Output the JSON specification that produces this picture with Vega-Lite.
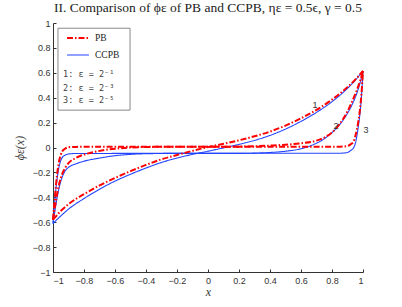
{
  "$schema": "https://vega.github.io/schema/vega-lite/v6.json",
  "width": 310,
  "height": 249,
  "autosize": {"type": "none"},
  "padding": {"left": 53, "top": 23, "right": 39, "bottom": 35},
  "background": "white",
  "title": {
    "text": "II. Comparison of ϕε of PB and CCPB, ηε = 0.5ϵ, γ = 0.5",
    "font": "Liberation Serif",
    "fontSize": 13.5,
    "fontWeight": "normal",
    "color": "#222222",
    "anchor": "middle",
    "offset": 5
  },
  "config": {
    "view": {"stroke": null},
    "axis": {
      "grid": false,
      "domainColor": "#333333",
      "tickColor": "#333333",
      "tickSize": -3,
      "labelFont": "Liberation Sans",
      "labelFontSize": 9,
      "labelColor": "#333333",
      "format": "~g",
      "titleFont": "Liberation Serif",
      "titleFontStyle": "italic",
      "titleFontWeight": "normal",
      "titleFontSize": 12,
      "titleColor": "#333333"
    },
    "legend": {
      "orient": "none",
      "legendX": 13,
      "legendY": 3,
      "padding": 0,
      "symbolType": "stroke",
      "symbolSize": 484,
      "labelFont": "Liberation Serif",
      "labelFontSize": 9.5,
      "labelColor": "#222222",
      "labelOffset": 5,
      "rowPadding": -9
    }
  },
  "encoding": {
    "x": {
      "field": "x",
      "type": "quantitative",
      "scale": {"domain": [-1, 1], "nice": false, "zero": false},
      "axis": {"title": "x", "values": [-1, -0.8, -0.6, -0.4, -0.2, 0, 0.2, 0.4, 0.6, 0.8, 1], "labelPadding": 7, "titlePadding": 1}
    },
    "y": {
      "field": "y",
      "type": "quantitative",
      "scale": {"domain": [-1, 1], "nice": false, "zero": false},
      "axis": {"title": "ϕε(x)", "values": [-1, -0.8, -0.6, -0.4, -0.2, 0, 0.2, 0.4, 0.6, 0.8, 1], "labelPadding": 6, "titlePadding": 6}
    }
  },
  "layer": [
    {
      "data": {"values": [{"x": -0.968, "x2": -0.503, "y": 0.958, "y2": 0.3}]},
      "mark": {"type": "rect", "fill": "white", "stroke": "#888888", "strokeWidth": 1},
      "encoding": {
        "x2": {"field": "x2"},
        "y2": {"field": "y2"}
      }
    },
    {
      "data": {"values": [
        {"t": "1: ε = 2⁻¹", "x": -0.935, "y": 0.59},
        {"t": "2: ε = 2⁻³", "x": -0.935, "y": 0.478},
        {"t": "3: ε = 2⁻⁵", "x": -0.935, "y": 0.38}
      ]},
      "mark": {"type": "text", "font": "DejaVu Sans Mono", "fontSize": 8.5, "color": "#444444", "align": "left", "baseline": "middle"},
      "encoding": {"text": {"field": "t"}}
    },
    {
      "data": {"values": [
        {"s": "CCPB", "e": 1, "x": -1, "y": -0.61}, {"s": "CCPB", "e": 1, "x": -0.95, "y": -0.55}, {"s": "CCPB", "e": 1, "x": -0.9, "y": -0.495}, {"s": "CCPB", "e": 1, "x": -0.8, "y": -0.41}, {"s": "CCPB", "e": 1, "x": -0.7, "y": -0.335}, {"s": "CCPB", "e": 1, "x": -0.6, "y": -0.27}, {"s": "CCPB", "e": 1, "x": -0.5, "y": -0.215}, {"s": "CCPB", "e": 1, "x": -0.4, "y": -0.165}, {"s": "CCPB", "e": 1, "x": -0.3, "y": -0.12}, {"s": "CCPB", "e": 1, "x": -0.2, "y": -0.085}, {"s": "CCPB", "e": 1, "x": -0.1, "y": -0.055}, {"s": "CCPB", "e": 1, "x": 0, "y": -0.03}, {"s": "CCPB", "e": 1, "x": 0.1, "y": -0.003}, {"s": "CCPB", "e": 1, "x": 0.2, "y": 0.025}, {"s": "CCPB", "e": 1, "x": 0.3, "y": 0.057}, {"s": "CCPB", "e": 1, "x": 0.4, "y": 0.097}, {"s": "CCPB", "e": 1, "x": 0.5, "y": 0.148}, {"s": "CCPB", "e": 1, "x": 0.6, "y": 0.21}, {"s": "CCPB", "e": 1, "x": 0.7, "y": 0.282}, {"s": "CCPB", "e": 1, "x": 0.8, "y": 0.368}, {"s": "CCPB", "e": 1, "x": 0.9, "y": 0.475}, {"s": "CCPB", "e": 1, "x": 0.95, "y": 0.54}, {"s": "CCPB", "e": 1, "x": 1, "y": 0.615},
        {"s": "CCPB", "e": 2, "x": -1, "y": -0.61}, {"s": "CCPB", "e": 2, "x": -0.98, "y": -0.45}, {"s": "CCPB", "e": 2, "x": -0.96, "y": -0.32}, {"s": "CCPB", "e": 2, "x": -0.94, "y": -0.235}, {"s": "CCPB", "e": 2, "x": -0.92, "y": -0.185}, {"s": "CCPB", "e": 2, "x": -0.9, "y": -0.16}, {"s": "CCPB", "e": 2, "x": -0.85, "y": -0.13}, {"s": "CCPB", "e": 2, "x": -0.8, "y": -0.11}, {"s": "CCPB", "e": 2, "x": -0.7, "y": -0.085}, {"s": "CCPB", "e": 2, "x": -0.6, "y": -0.066}, {"s": "CCPB", "e": 2, "x": -0.5, "y": -0.055}, {"s": "CCPB", "e": 2, "x": -0.4, "y": -0.05}, {"s": "CCPB", "e": 2, "x": -0.2, "y": -0.047}, {"s": "CCPB", "e": 2, "x": 0, "y": -0.047}, {"s": "CCPB", "e": 2, "x": 0.2, "y": -0.047}, {"s": "CCPB", "e": 2, "x": 0.3, "y": -0.045}, {"s": "CCPB", "e": 2, "x": 0.4, "y": -0.04}, {"s": "CCPB", "e": 2, "x": 0.5, "y": -0.03}, {"s": "CCPB", "e": 2, "x": 0.6, "y": -0.01}, {"s": "CCPB", "e": 2, "x": 0.7, "y": 0.035}, {"s": "CCPB", "e": 2, "x": 0.75, "y": 0.07}, {"s": "CCPB", "e": 2, "x": 0.8, "y": 0.12}, {"s": "CCPB", "e": 2, "x": 0.85, "y": 0.185}, {"s": "CCPB", "e": 2, "x": 0.9, "y": 0.275}, {"s": "CCPB", "e": 2, "x": 0.93, "y": 0.345}, {"s": "CCPB", "e": 2, "x": 0.96, "y": 0.435}, {"s": "CCPB", "e": 2, "x": 0.98, "y": 0.515}, {"s": "CCPB", "e": 2, "x": 1, "y": 0.615},
        {"s": "CCPB", "e": 3, "x": -1, "y": -0.61}, {"s": "CCPB", "e": 3, "x": -0.99, "y": -0.45}, {"s": "CCPB", "e": 3, "x": -0.98, "y": -0.32}, {"s": "CCPB", "e": 3, "x": -0.97, "y": -0.22}, {"s": "CCPB", "e": 3, "x": -0.96, "y": -0.15}, {"s": "CCPB", "e": 3, "x": -0.95, "y": -0.105}, {"s": "CCPB", "e": 3, "x": -0.94, "y": -0.08}, {"s": "CCPB", "e": 3, "x": -0.92, "y": -0.06}, {"s": "CCPB", "e": 3, "x": -0.9, "y": -0.052}, {"s": "CCPB", "e": 3, "x": -0.85, "y": -0.048}, {"s": "CCPB", "e": 3, "x": 0, "y": -0.047}, {"s": "CCPB", "e": 3, "x": 0.85, "y": -0.046}, {"s": "CCPB", "e": 3, "x": 0.9, "y": -0.04}, {"s": "CCPB", "e": 3, "x": 0.92, "y": -0.025}, {"s": "CCPB", "e": 3, "x": 0.94, "y": 0.0}, {"s": "CCPB", "e": 3, "x": 0.95, "y": 0.03}, {"s": "CCPB", "e": 3, "x": 0.96, "y": 0.09}, {"s": "CCPB", "e": 3, "x": 0.97, "y": 0.17}, {"s": "CCPB", "e": 3, "x": 0.98, "y": 0.27}, {"s": "CCPB", "e": 3, "x": 0.99, "y": 0.41}, {"s": "CCPB", "e": 3, "x": 1, "y": 0.615}
      ]},
      "mark": {"type": "line", "interpolate": "monotone"},
      "encoding": {
        "detail": {"field": "e"},
        "color": {"field": "s", "type": "nominal", "scale": {"domain": ["PB", "CCPB"], "range": ["#ff0000", "#2244ff"]}, "legend": {"title": null}},
        "strokeDash": {"field": "s", "type": "nominal", "scale": {"domain": ["PB", "CCPB"], "range": [[6, 2, 1.5, 2], [1, 0]]}, "legend": {"title": null}},
        "strokeWidth": {"field": "s", "type": "nominal", "scale": {"domain": ["PB", "CCPB"], "range": [2, 1.1]}, "legend": {"title": null}}
      }
    },
    {
      "data": {"values": [
        {"s": "PB", "e": 1, "x": -1, "y": -0.58}, {"s": "PB", "e": 1, "x": -0.95, "y": -0.51}, {"s": "PB", "e": 1, "x": -0.9, "y": -0.455}, {"s": "PB", "e": 1, "x": -0.8, "y": -0.375}, {"s": "PB", "e": 1, "x": -0.7, "y": -0.305}, {"s": "PB", "e": 1, "x": -0.6, "y": -0.245}, {"s": "PB", "e": 1, "x": -0.5, "y": -0.19}, {"s": "PB", "e": 1, "x": -0.4, "y": -0.14}, {"s": "PB", "e": 1, "x": -0.3, "y": -0.095}, {"s": "PB", "e": 1, "x": -0.2, "y": -0.06}, {"s": "PB", "e": 1, "x": -0.1, "y": -0.027}, {"s": "PB", "e": 1, "x": 0, "y": 0.003}, {"s": "PB", "e": 1, "x": 0.1, "y": 0.03}, {"s": "PB", "e": 1, "x": 0.2, "y": 0.058}, {"s": "PB", "e": 1, "x": 0.3, "y": 0.09}, {"s": "PB", "e": 1, "x": 0.4, "y": 0.128}, {"s": "PB", "e": 1, "x": 0.5, "y": 0.176}, {"s": "PB", "e": 1, "x": 0.6, "y": 0.235}, {"s": "PB", "e": 1, "x": 0.7, "y": 0.302}, {"s": "PB", "e": 1, "x": 0.8, "y": 0.385}, {"s": "PB", "e": 1, "x": 0.9, "y": 0.485}, {"s": "PB", "e": 1, "x": 0.95, "y": 0.545}, {"s": "PB", "e": 1, "x": 1, "y": 0.615},
        {"s": "PB", "e": 2, "x": -1, "y": -0.58}, {"s": "PB", "e": 2, "x": -0.98, "y": -0.42}, {"s": "PB", "e": 2, "x": -0.96, "y": -0.29}, {"s": "PB", "e": 2, "x": -0.94, "y": -0.21}, {"s": "PB", "e": 2, "x": -0.92, "y": -0.16}, {"s": "PB", "e": 2, "x": -0.9, "y": -0.125}, {"s": "PB", "e": 2, "x": -0.85, "y": -0.082}, {"s": "PB", "e": 2, "x": -0.8, "y": -0.057}, {"s": "PB", "e": 2, "x": -0.7, "y": -0.027}, {"s": "PB", "e": 2, "x": -0.6, "y": -0.01}, {"s": "PB", "e": 2, "x": -0.5, "y": 0.0}, {"s": "PB", "e": 2, "x": -0.4, "y": 0.004}, {"s": "PB", "e": 2, "x": -0.2, "y": 0.006}, {"s": "PB", "e": 2, "x": 0, "y": 0.006}, {"s": "PB", "e": 2, "x": 0.2, "y": 0.007}, {"s": "PB", "e": 2, "x": 0.3, "y": 0.01}, {"s": "PB", "e": 2, "x": 0.4, "y": 0.015}, {"s": "PB", "e": 2, "x": 0.5, "y": 0.022}, {"s": "PB", "e": 2, "x": 0.6, "y": 0.034}, {"s": "PB", "e": 2, "x": 0.7, "y": 0.055}, {"s": "PB", "e": 2, "x": 0.75, "y": 0.08}, {"s": "PB", "e": 2, "x": 0.8, "y": 0.12}, {"s": "PB", "e": 2, "x": 0.85, "y": 0.19}, {"s": "PB", "e": 2, "x": 0.9, "y": 0.29}, {"s": "PB", "e": 2, "x": 0.93, "y": 0.37}, {"s": "PB", "e": 2, "x": 0.96, "y": 0.46}, {"s": "PB", "e": 2, "x": 0.98, "y": 0.53}, {"s": "PB", "e": 2, "x": 1, "y": 0.615},
        {"s": "PB", "e": 3, "x": -1, "y": -0.58}, {"s": "PB", "e": 3, "x": -0.99, "y": -0.43}, {"s": "PB", "e": 3, "x": -0.98, "y": -0.29}, {"s": "PB", "e": 3, "x": -0.97, "y": -0.18}, {"s": "PB", "e": 3, "x": -0.96, "y": -0.105}, {"s": "PB", "e": 3, "x": -0.95, "y": -0.06}, {"s": "PB", "e": 3, "x": -0.94, "y": -0.03}, {"s": "PB", "e": 3, "x": -0.92, "y": -0.008}, {"s": "PB", "e": 3, "x": -0.9, "y": 0.002}, {"s": "PB", "e": 3, "x": -0.85, "y": 0.005}, {"s": "PB", "e": 3, "x": 0, "y": 0.006}, {"s": "PB", "e": 3, "x": 0.85, "y": 0.007}, {"s": "PB", "e": 3, "x": 0.9, "y": 0.012}, {"s": "PB", "e": 3, "x": 0.92, "y": 0.025}, {"s": "PB", "e": 3, "x": 0.94, "y": 0.05}, {"s": "PB", "e": 3, "x": 0.95, "y": 0.09}, {"s": "PB", "e": 3, "x": 0.96, "y": 0.14}, {"s": "PB", "e": 3, "x": 0.97, "y": 0.21}, {"s": "PB", "e": 3, "x": 0.98, "y": 0.3}, {"s": "PB", "e": 3, "x": 0.99, "y": 0.43}, {"s": "PB", "e": 3, "x": 1, "y": 0.615}
      ]},
      "mark": {"type": "line", "interpolate": "monotone"},
      "encoding": {
        "detail": {"field": "e"},
        "color": {"field": "s", "type": "nominal"},
        "strokeDash": {"field": "s", "type": "nominal"},
        "strokeWidth": {"field": "s", "type": "nominal"}
      }
    },
    {
      "data": {"values": [
        {"t": "1", "x": 0.69, "y": 0.345},
        {"t": "2", "x": 0.826, "y": 0.176},
        {"t": "3", "x": 1.02, "y": 0.14}
      ]},
      "mark": {"type": "text", "font": "Liberation Sans", "fontSize": 9, "color": "#333333", "align": "center", "baseline": "middle"},
      "encoding": {"text": {"field": "t"}}
    }
  ]
}
